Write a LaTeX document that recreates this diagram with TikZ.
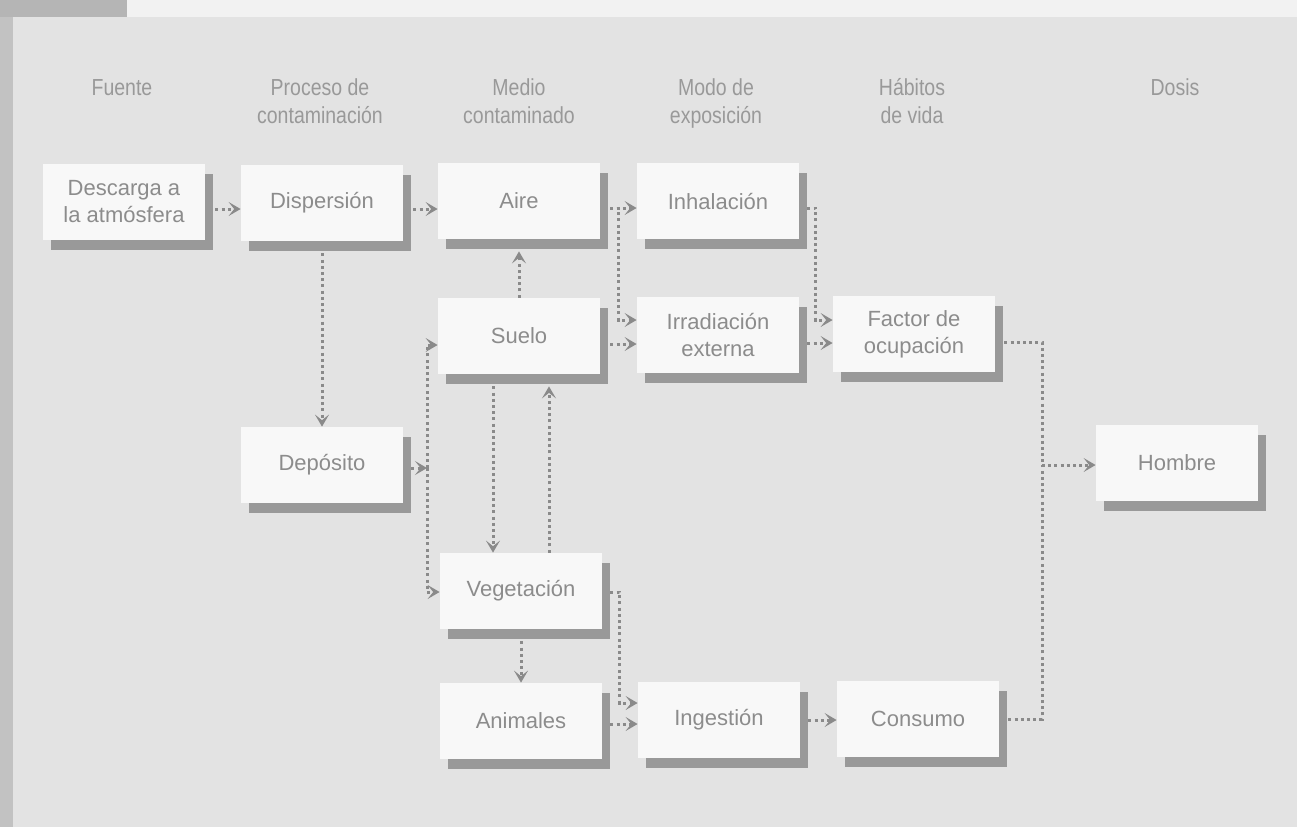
\documentclass[tikz,border=0pt]{standalone}
\usepackage{fontspec}
\setmainfont{Liberation Sans}
\newfontfamily\hdrfont[FakeStretch=0.84]{Liberation Sans}
\usetikzlibrary{arrows.meta,shadows,calc}
\definecolor{panel}{HTML}{E3E3E3}
\definecolor{leftstrip}{HTML}{C2C2C2}
\definecolor{topleft}{HTML}{B5B5B5}
\definecolor{topright}{HTML}{F2F2F2}
\definecolor{boxfill}{HTML}{F8F8F8}
\definecolor{shad}{HTML}{999999}
\definecolor{txt}{HTML}{8C8C8C}
\definecolor{hdrtxt}{HTML}{999999}
\definecolor{arrc}{HTML}{8A8A8A}
\begin{document}
\begin{tikzpicture}[x=0.5pt,y=-0.5pt,
  box/.style={fill=boxfill, draw=none, minimum width=81pt, minimum height=38pt,
    align=center, text=txt, font=\fontsize{11}{13.5}\selectfont, inner sep=0pt,
    drop shadow={shadow xshift=4pt, shadow yshift=-5pt, fill=shad, opacity=1}},
  hdr/.style={text=hdrtxt, align=center, font=\hdrfont\fontsize{11.6}{14}\selectfont, anchor=base},
  ln/.style={draw=arrc, line width=1.5pt, dash pattern=on 1.5pt off 1.6pt},
  arr/.style={ln, -{Stealth[length=6pt,width=7pt,inset=2.8pt]}},
]
\useasboundingbox (0,0) rectangle (1297,827);
% background
\fill[leftstrip] (0,0) rectangle (13,827);
\fill[panel] (13,17) rectangle (1297,827);
\fill[topleft] (0,0) rectangle (127,17);
\fill[topright] (127,0) rectangle (1297,17);

% headers (base anchor = last line's baseline)
\node[hdr] (h1) at (122,95) {Fuente};
\node[hdr] (h2) at (320,123) {Proceso de\\contaminación};
\node[hdr] (h3) at (519,123) {Medio\\contaminado};
\node[hdr] (h4) at (716,123) {Modo de\\exposición};
\node[hdr] (h5) at (912,123) {Hábitos\\de vida};
\node[hdr] (h6) at (1175,95) {Dosis};

% boxes
\node[box] (desc) at (124,202) {Descarga a\\la atmósfera};
\node[box] (disp) at (322,203) {Dispersión};
\node[box] (aire) at (519,201) {Aire};
\node[box] (inh) at (718,201) {Inhalación};
\node[box] (suelo) at (519,336) {Suelo};
\node[box] (irr) at (718,335) {Irradiación\\externa};
\node[box] (factor) at (914,334) {Factor de\\ocupación};
\node[box] (dep) at (322,465) {Depósito};
\node[box] (hombre) at (1177,463) {Hombre};
\node[box] (veg) at (521,591) {Vegetación};
\node[box] (anim) at (521,721) {Animales};
\node[box] (ing) at (719,720) {Ingestión};
\node[box] (cons) at (918,719) {Consumo};

% junctions
\coordinate (jh) at (1042,465);
\coordinate (jd) at (427,468);

% connectors
\draw[arr] ([xshift=5pt,yshift=-3.5pt]desc.east) -- ([yshift=-3.5pt]disp.west |- desc.east);
\draw[arr] ([xshift=5pt,yshift=-3pt]disp.east) -- ([yshift=-3pt]aire.west |- disp.east);
\draw[arr] ([xshift=5pt,yshift=-3.5pt]aire.east) -- ([yshift=-3.5pt]inh.west);
\draw[arr] ([xshift=5pt,yshift=-3.5pt]aire.east) -| ([xshift=-9pt,yshift=7.5pt]irr.west) -- ([yshift=7.5pt]irr.west);
\draw[arr] ([xshift=5pt,yshift=-4pt]suelo.east) -- ([yshift=-4pt]irr.west |- suelo.east);
\draw[arr] (suelo.north) -- ([yshift=-6pt]aire.south);
\draw[arr] ([xshift=4pt,yshift=-3.5pt]inh.east) -| ([xshift=-8.5pt,yshift=7pt]factor.west) -- ([yshift=7pt]factor.west);
\draw[arr] ([xshift=4pt,yshift=-4pt]irr.east) -- ([yshift=-4pt]factor.west |- irr.east);
\draw[ln] ([xshift=4.5pt,yshift=-4pt]factor.east) -| (jh);
\draw[ln] ([xshift=4.5pt]cons.east) -| (jh);
\draw[arr] (jh) -- (hombre.west |- jh);
\draw[arr] ([yshift=-6pt]disp.south) -- (dep.north);
\draw[arr] ([xshift=4pt,yshift=-1.5pt]dep.east) -- (jd);
\draw[arr] (jd) |- ([yshift=-4.5pt]suelo.west);
\draw[arr] (jd) |- ([yshift=-0.5pt]veg.west);
\draw[arr] ([xshift=-13pt,yshift=-6pt]suelo.south) -- ([xshift=-14pt]veg.north);
\draw[arr] ([xshift=14pt]veg.north) -- ([xshift=15pt,yshift=-6pt]suelo.south);
\draw[arr] ([yshift=-6pt]veg.south) -- (anim.north);
\draw[arr] ([xshift=4pt,yshift=-0.5pt]veg.east) -| ([xshift=-9pt,yshift=8.5pt]ing.west) -- ([yshift=8.5pt]ing.west);
\draw[arr] ([xshift=4pt,yshift=-1.5pt]anim.east) -- ([yshift=-1.5pt]ing.west |- anim.east);
\draw[arr] ([xshift=4pt]ing.east) -- (cons.west |- ing.east);
\end{tikzpicture}
\end{document}
